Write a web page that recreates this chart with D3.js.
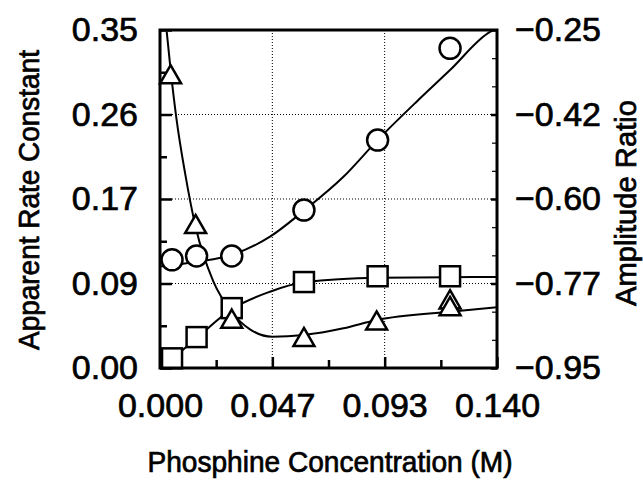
<!DOCTYPE html>
<html>
<head>
<meta charset="utf-8">
<script src="https://cdn.jsdelivr.net/npm/d3@7"></script>
<style>
  body { margin: 0; background: #fff; }
  #chart { width: 643px; height: 483px; }
  text { font-family: "Liberation Sans", Arial, sans-serif; fill: #000; stroke: #000; stroke-width: 0.7px; }
</style>
</head>
<body>
<div id="chart"></div>
<script>
// measured points (phosphine concentration, M)
const conc = [0.005, 0.0152, 0.0298, 0.0598, 0.0904, 0.1205];
const rateSquares = [0.010, 0.032, 0.062, 0.089, 0.095, 0.095];
const triConc = [0.0044, 0.0148, 0.0298, 0.0598, 0.090, 0.1205, 0.1205];
const rateTriangles = [0.301, 0.146, 0.048, 0.029, 0.046, 0.068, 0.061];
const ampCircles = [-0.726, -0.718, -0.718, -0.623, -0.478, -0.288];

// fitted curves
const fitSqConc = [0.001, 0.0053, 0.0152, 0.0298, 0.0457, 0.0598, 0.0904, 0.1205, 0.140];
const fitSq = [0.002, 0.010, 0.031, 0.061, 0.079, 0.0887, 0.0935, 0.0940, 0.0942];
const fitTriConc = [0.0028, 0.0044, 0.0069, 0.0104, 0.0148, 0.0221, 0.0298, 0.0374, 0.0467, 0.0598, 0.0762, 0.090, 0.1205, 0.140];
const fitTri = [0.348, 0.309, 0.257, 0.202, 0.146, 0.090, 0.058, 0.040, 0.0324, 0.0342, 0.0411, 0.0497, 0.0583, 0.0628];
const fitCirConc = [0.0, 0.0152, 0.0298, 0.0457, 0.0598, 0.0762, 0.0904, 0.1067, 0.1205, 0.1371, 0.140];
const fitCir = [-0.740, -0.730, -0.716, -0.678, -0.624, -0.554, -0.478, -0.398, -0.333, -0.254, -0.247];

const xTickLabels = ["0.000", "0.047", "0.093", "0.140"];
const yTickLabels = ["0.00", "0.09", "0.17", "0.26", "0.35"];
const y2TickLabels = ["\u22120.95", "\u22120.77", "\u22120.60", "\u22120.42", "\u22120.25"];

const margin = {top: 30, right: 146, bottom: 115, left: 160};
const W = 643, H = 483;
const width = W - margin.left - margin.right;
const height = H - margin.top - margin.bottom;

const svg = d3.select("#chart").append("svg")
  .attr("width", W).attr("height", H);
const g = svg.append("g")
  .attr("transform", "translate(" + margin.left + "," + margin.top + ")");

const x = d3.scaleLinear().domain([0, 0.14]).range([0, width]);
const y = d3.scaleLinear().domain([0, 0.35]).range([height, 0]);
const y2 = d3.scaleLinear().domain([-0.95, -0.25]).range([height, 0]);

const xMajor = d3.range(4).map(i => i * 0.14 / 3);
const xMinor = d3.range(3).map(i => (i + 0.5) * 0.14 / 3);
const yMajor = d3.range(5).map(i => i * 0.35 / 4);
const yMinor = d3.range(4).map(i => (i + 0.5) * 0.35 / 4);
const y2Major = d3.range(5).map(i => -0.95 + i * 0.7 / 4);
const y2Minor = d3.range(13).map(i => -0.95 + i * 0.7 / 12).filter((d, i) => i % 3 != 0);

// dotted grid
const grid = g.append("g").attr("stroke", "#000").attr("stroke-width", 1)
  .attr("stroke-dasharray", "1,2");
grid.selectAll(".gx").data(xMajor.slice(1, 3)).join("line")
  .attr("x1", d => x(d)).attr("x2", d => x(d)).attr("y1", 0).attr("y2", height);
grid.selectAll(".gy").data(yMajor.slice(1, 4)).join("line")
  .attr("y1", d => y(d)).attr("y2", d => y(d)).attr("x1", 0).attr("x2", width);

function styleAxis(sel) {
  sel.select(".domain").remove();
  sel.selectAll("line").attr("stroke", "#000").attr("stroke-width", 2.5);
  sel.attr("font-family", null).attr("font-size", 34);
  sel.selectAll("text").attr("fill", "#000");
}

// bottom axis
g.append("g").attr("transform", "translate(0," + height + ")")
  .call(d3.axisBottom(x).tickValues(xMajor).tickFormat((d, i) => xTickLabels[i])
    .tickSizeInner(-11).tickSizeOuter(0).tickPadding(25))
  .call(styleAxis);
g.append("g").attr("transform", "translate(0," + height + ")")
  .call(d3.axisBottom(x).tickValues(xMinor).tickFormat("").tickSizeInner(-8).tickSizeOuter(0))
  .call(styleAxis);

// left axis
g.append("g")
  .call(d3.axisLeft(y).tickValues(yMajor).tickFormat((d, i) => yTickLabels[i])
    .tickSizeInner(-12).tickSizeOuter(0).tickPadding(22))
  .call(styleAxis);
g.append("g")
  .call(d3.axisLeft(y).tickValues(yMinor).tickFormat("").tickSizeInner(-7).tickSizeOuter(0))
  .call(styleAxis);

// right axis
g.append("g").attr("transform", "translate(" + width + ",0)")
  .call(d3.axisRight(y2).tickValues(y2Major).tickFormat((d, i) => y2TickLabels[i])
    .tickSizeInner(-6).tickSizeOuter(0).tickPadding(18))
  .call(styleAxis);
g.append("g").attr("transform", "translate(" + width + ",0)")
  .call(d3.axisRight(y2).tickValues(y2Minor).tickFormat("").tickSizeInner(-5).tickSizeOuter(0))
  .call(styleAxis)
  .selectAll("line").attr("stroke-width", 1.2);

// fitted lines
g.append("clipPath").attr("id", "plotclip").append("rect")
  .attr("width", width).attr("height", height);
const lines = g.append("g").attr("clip-path", "url(#plotclip)")
  .attr("fill", "none").attr("stroke", "#000").attr("stroke-width", 2);

const lineY = d3.line().x(d => x(d[0])).y(d => y(d[1])).curve(d3.curveMonotoneX);
const lineY2 = d3.line().x(d => x(d[0])).y(d => y2(d[1])).curve(d3.curveMonotoneX);
lines.append("path").attr("d", lineY(d3.zip(fitSqConc, fitSq)));
lines.append("path").attr("d", lineY(d3.zip(fitTriConc, fitTri)));
lines.append("path").attr("d", lineY2(d3.zip(fitCirConc, fitCir)));

// markers
const marks = g.append("g").attr("fill", "#fff").attr("stroke", "#000").attr("stroke-width", 2.5);
marks.selectAll("circle").data(d3.zip(conc, ampCircles)).join("circle")
  .attr("cx", d => x(d[0])).attr("cy", d => y2(d[1])).attr("r", 10.5);
marks.selectAll("rect").data(d3.zip(conc, rateSquares)).join("rect")
  .attr("x", d => x(d[0]) - 10).attr("y", d => y(d[1]) - 10)
  .attr("width", 20).attr("height", 20);
const tri = d3.symbol().type(d3.symbolTriangle).size(190);
marks.selectAll("path").data(d3.zip(triConc, rateTriangles)).join("path")
  .attr("transform", d => "translate(" + x(d[0]) + "," + y(d[1]) + ")")
  .attr("d", tri);

// frame
g.append("rect").attr("width", width).attr("height", height)
  .attr("fill", "none").attr("stroke", "#000").attr("stroke-width", 3);

// axis titles
svg.append("text").attr("x", 330).attr("y", 472).attr("text-anchor", "middle")
  .attr("font-size", 29).attr("textLength", 365).attr("lengthAdjust", "spacingAndGlyphs")
  .text("Phosphine Concentration (M)");
svg.append("text").attr("transform", "translate(39,200) rotate(-90)")
  .attr("text-anchor", "middle").attr("font-size", 29)
  .attr("textLength", 300).attr("lengthAdjust", "spacingAndGlyphs")
  .text("Apparent Rate Constant");
svg.append("text").attr("transform", "translate(636,203) rotate(-90)")
  .attr("text-anchor", "middle").attr("font-size", 29)
  .attr("textLength", 206).attr("lengthAdjust", "spacingAndGlyphs")
  .text("Amplitude Ratio");
</script>
</body>
</html>
